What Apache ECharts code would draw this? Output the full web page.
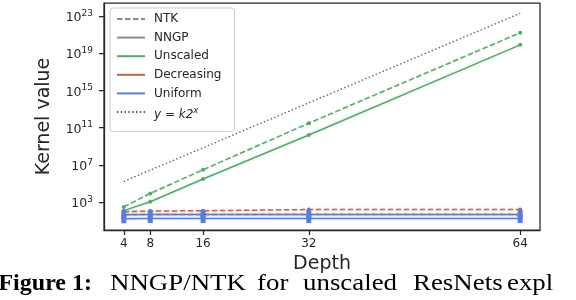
<!DOCTYPE html>
<html>
<head>
<meta charset="utf-8">
<script src="https://cdn.jsdelivr.net/npm/echarts@6/dist/echarts.min.js"></script>
<style>html,body{margin:0;padding:0;background:#fff}#c{width:576px;height:300px}</style>
</head>
<body>
<div id="c"></div>
<script>
// ---- data ----
const depths = [4, 8, 16, 32, 64];
const unscaledNTK = [3.0e2, 8.5e3, 3.0e6, 3.0e11, 1.6e21];
const unscaledNNGP = [1.2e2, 1.1e3, 3.0e5, 1.6e10, 8.0e19];
const decreasingNTK = [93, 110, 117, 158, 158];
const decreasingNNGP = [44, 46, 46, 47, 47];
const uniformNTK = [45, 47, 47, 47, 47];
const uniformNNGP = [16, 17, 17, 17, 17];
const kLine = [1.7e5, 2.7e6, 6.9e8, 4.6e13, 1.95e23];
const xTicks = [4, 8, 16, 32, 64];
const yTickExps = [3, 7, 11, 15, 19, 23];
const legendNames = ['NTK', 'NNGP', 'Unscaled', 'Decreasing', 'Uniform', 'y = k2^x'];
const captionBold = 'Figure 1:';
const captionWords = ['NNGP/NTK', 'for', 'unscaled', 'ResNets', 'expl'];

const GREEN = '#55a868', BROWN = '#b5694d', BLUE = '#5a7ed8', GRAY = '#8c8c8c', INK = '#262626';
const pairs = arr => depths.map((d, i) => [d, arr[i]]);

function dataSeries(name, arr, color, dashed, symbol, symbolSize, z) {
  return {
    name: name, type: 'line', data: pairs(arr), z: z,
    symbol: symbol, symbolSize: symbolSize, showSymbol: true,
    itemStyle: { color: color },
    lineStyle: { color: color, width: 1.5, type: dashed ? [5.5, 2.5] : 'solid',
      shadowColor: color + '44', shadowBlur: 3 },
    emphasis: { disabled: true }, silent: true, animation: false
  };
}
function legendSeries(name, color, type) {
  return { name: name, type: 'line', data: [], symbol: 'none',
    itemStyle: { color: color }, lineStyle: { color: color, width: 1.5, type: type }, animation: false };
}

const series = [
  legendSeries('NTK', GRAY, [5.5, 2.5]),
  legendSeries('NNGP', GRAY, 'solid'),
  legendSeries('Unscaled', GREEN, 'solid'),
  legendSeries('Decreasing', BROWN, 'solid'),
  legendSeries('Uniform', BLUE, 'solid'),
  {
    name: 'y = k2^x', type: 'line', data: pairs(kLine), symbol: 'none', z: 2,
    itemStyle: { color: '#555' },
    lineStyle: { color: '#555', width: 1.3, type: [1.4, 2.4] }, animation: false, silent: true
  },
  dataSeries('Unscaled NTK', unscaledNTK, GREEN, true, 'circle', 4, 3),
  dataSeries('Unscaled NNGP', unscaledNNGP, GREEN, false, 'circle', 4, 3),
  dataSeries('Decreasing NTK', decreasingNTK, BROWN, true, 'circle', 4, 4),
  dataSeries('Decreasing NNGP', decreasingNNGP, BROWN, false, 'circle', 4, 4),
  dataSeries('Uniform NNGP', uniformNNGP, BLUE, false, 'rect', [5, 9], 5),
  dataSeries('Uniform NTK', uniformNTK, BLUE, true, 'rect', [5, 9], 5)
];

const capY = 284;
const wordX = [110, 257, 303, 413, 507];
const graphic = [{
  type: 'text', x: 92, y: capY,
  style: { text: captionBold, font: 'bold 24px "Liberation Serif"', fill: '#000', align: 'right', verticalAlign: 'middle' }
}].concat(captionWords.map((w, i) => ({
  type: 'text', x: wordX[i], y: capY, scaleX: 1.12, originX: 0,
  style: { text: w, font: '24px "Liberation Serif"', fill: '#000', align: 'left', verticalAlign: 'middle' }
})));

const chart = echarts.init(document.getElementById('c'), null, { renderer: 'canvas' });
chart.setOption({
  animation: false,
  backgroundColor: '#fff',
  textStyle: { fontFamily: 'DejaVu Sans' },
  grid: { left: 104, right: 36, top: 3, bottom: 70, show: true, borderColor: INK, borderWidth: 1.25, backgroundColor: 'transparent' },
  legend: {
    data: legendNames, orient: 'vertical', left: 110, top: 8,
    backgroundColor: '#fff', borderColor: '#cccccc', borderWidth: 1, borderRadius: 3,
    padding: [5, 13, 11, 6], itemWidth: 28, itemHeight: 12, itemGap: 6.6,
    selectedMode: false,
    itemStyle: { opacity: 0, borderWidth: 0 },
    textStyle: { fontFamily: 'DejaVu Sans', fontSize: 12, color: INK, lineHeight: 12, padding: [0, 0, 0, 4],
      rich: { it: { fontFamily: 'DejaVu Sans', fontStyle: 'italic', fontSize: 12, color: INK, padding: [5, 0, 0, 0] },
              sup: { fontFamily: 'DejaVu Sans', fontStyle: 'italic', fontSize: 8.5, color: INK, padding: [0, 0, 3, 0] } } },
    formatter: function (n) { return n === 'y = k2^x' ? '{it|y = k2}{sup|x}' : n; }
  },
  xAxis: {
    type: 'value', min: 1, max: 67,
    axisLine: { show: true, lineStyle: { color: INK, width: 1.25 } },
    axisTick: { show: true, length: 5, inside: false, customValues: xTicks, lineStyle: { color: INK, width: 1.25 } },
    axisLabel: { customValues: xTicks, fontSize: 12, color: INK, margin: 8, fontFamily: 'DejaVu Sans' },
    splitLine: { show: false },
    name: 'Depth', nameLocation: 'middle', nameGap: 25,
    nameTextStyle: { fontSize: 19, color: INK, fontFamily: 'DejaVu Sans' }
  },
  yAxis: {
    type: 'log', logBase: 10, min: 1, max: 2.5e24,
    axisLine: { show: true, lineStyle: { color: INK, width: 1.25 } },
    axisTick: { show: true, length: 5, inside: false, customValues: yTickExps.map(e => Math.pow(10, e)), lineStyle: { color: INK, width: 1.25 } },
    axisLabel: {
      customValues: yTickExps.map(e => Math.pow(10, e)), margin: 11, color: INK,
      formatter: function (v) { return '{b|10}{s|' + Math.round(Math.log10(v)) + '}'; },
      rich: { b: { fontSize: 12.5, color: INK, fontFamily: 'DejaVu Sans', padding: [4, 0, 0, 0] },
              s: { fontSize: 9, color: INK, fontFamily: 'DejaVu Sans', padding: [0, 0, 5, 0] } }
    },
    splitLine: { show: false }, minorTick: { show: false },
    name: 'Kernel value', nameLocation: 'middle', nameGap: 50, nameRotate: 90,
    nameTextStyle: { fontSize: 19, color: INK, fontFamily: 'DejaVu Sans' }
  },
  series: series,
  graphic: graphic
});
</script>
</body>
</html>
